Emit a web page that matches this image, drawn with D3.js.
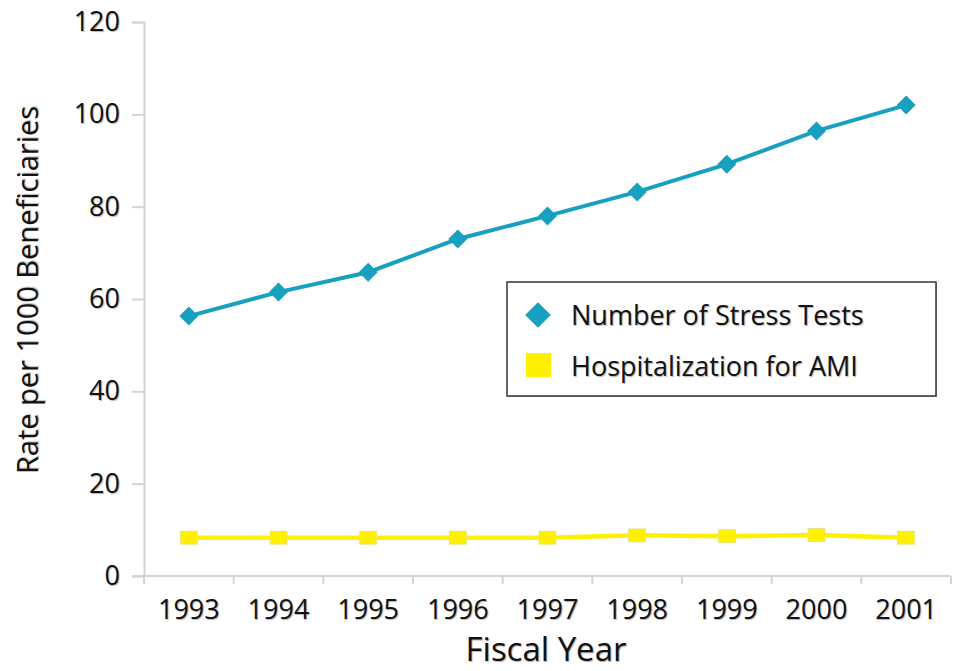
<!DOCTYPE html>
<html>
<head>
<meta charset="utf-8">
<script src="https://cdn.jsdelivr.net/npm/d3@7"></script>
<style>
  body { margin: 0; background: #fff; }
  svg text { font-family: "Open Sans", "Noto Sans", sans-serif; fill: #111;
             text-shadow: 1px 1px 1px rgba(0,0,0,0.3); }
</style>
</head>
<body>
<div id="graph"></div>
<script>
// Chart data
var years       = [ '1993', '1994', '1995', '1996', '1997', '1998', '1999', '2000', '2001' ];
var stressTests = [ 56.3, 61.5, 65.8, 73.0, 78.0, 83.2, 89.2, 96.4, 102.0 ];
var amiHosp     = [ 8.3, 8.3, 8.3, 8.3, 8.3, 8.8, 8.6, 8.9, 8.3 ];
var yTicks      = [ 0, 20, 40, 60, 80, 100, 120 ];
var seriesNames = [ 'Number of Stress Tests', 'Hospitalization for AMI' ];

var overallWidth  = 953;
var overallHeight = 671;

var margin = { top: 22, right: 2, bottom: 95, left: 144 };
var width  = overallWidth - margin.left - margin.right;
var height = overallHeight - margin.top - margin.bottom;

var blue    = '#17a0bf';
var yellow  = '#fff000';
var axisCol = '#d4d4d4';

var svg = d3.select('#graph').append('svg')
            .attr('width', overallWidth)
            .attr('height', overallHeight);

var g = svg.append('g')
           .attr('transform', 'translate(' + margin.left + ',' + margin.top + ')');

var x = d3.scaleBand().domain(years).range([0, width]);
var y = d3.scaleLinear().domain([0, 120]).range([height, 0]);

// Y axis
var yAxis = g.append('g')
             .call(d3.axisLeft(y).tickValues(yTicks).tickSize(12).tickPadding(12));
yAxis.select('.domain').attr('stroke', axisCol).attr('stroke-width', 2);
yAxis.selectAll('.tick line').attr('stroke', axisCol).attr('stroke-width', 2);
yAxis.selectAll('.tick text').style('font-size', '27px');

// X axis: ticks on the band boundaries, labels in the middle
var xAxis = g.append('g').attr('transform', 'translate(0,' + height + ')');
xAxis.append('line')
     .attr('x1', -12).attr('x2', width)
     .attr('stroke', axisCol).attr('stroke-width', 2);
var bounds = years.map(function (d) { return x(d); }).concat([width]);
xAxis.selectAll('.xtick')
     .data(bounds)
     .enter().append('line')
     .attr('class', 'xtick')
     .attr('x1', function (d) { return d; })
     .attr('x2', function (d) { return d; })
     .attr('y1', 0).attr('y2', 8)
     .attr('stroke', axisCol).attr('stroke-width', 2);
xAxis.selectAll('.xlabel')
     .data(years)
     .enter().append('text')
     .attr('class', 'xlabel')
     .attr('x', function (d) { return x(d) + x.bandwidth() / 2; })
     .attr('y', 43)
     .attr('text-anchor', 'middle')
     .style('font-size', '27px')
     .text(function (d) { return d; });

// Axis titles
svg.append('text')
   .attr('x', 546)
   .attr('y', 661)
   .attr('text-anchor', 'middle')
   .style('font-size', '33px')
   .text('Fiscal Year');

svg.append('text')
   .attr('transform', 'translate(38,290) rotate(-90)')
   .attr('text-anchor', 'middle')
   .style('font-size', '29px')
   .text('Rate per 1000 Beneficiaries');

var line = d3.line()
             .x(function (d, i) { return x(years[i]) + x.bandwidth() / 2; })
             .y(function (d) { return y(d); });

// AMI series
g.append('path')
 .datum(amiHosp)
 .attr('d', line)
 .attr('fill', 'none')
 .attr('stroke', yellow)
 .attr('stroke-width', 4.5);

g.selectAll('.sq')
 .data(amiHosp)
 .enter().append('rect')
 .attr('class', 'sq')
 .attr('x', function (d, i) { return x(years[i]) + x.bandwidth() / 2 - 8.5; })
 .attr('y', function (d) { return y(d) - 6.5; })
 .attr('width', 17).attr('height', 13)
 .attr('fill', yellow)
 .attr('stroke', '#e6e08a').attr('stroke-width', 0.8);

// Stress test series
g.append('path')
 .datum(stressTests)
 .attr('d', line)
 .attr('fill', 'none')
 .attr('stroke', blue)
 .attr('stroke-width', 4);

var diamond = d3.symbol().type(d3.symbolDiamond2).size(230);
g.selectAll('.dm')
 .data(stressTests)
 .enter().append('path')
 .attr('class', 'dm')
 .attr('d', diamond)
 .attr('transform', function (d, i) {
     return 'translate(' + (x(years[i]) + x.bandwidth() / 2) + ',' + y(d) + ')';
 })
 .attr('fill', blue);

// Legend
var legend = svg.append('g').attr('transform', 'translate(507,282)');
legend.append('rect')
      .attr('x', 1).attr('y', 1)
      .attr('width', 429).attr('height', 114)
      .attr('fill', '#bbb');
legend.append('rect')
      .attr('width', 429).attr('height', 114)
      .attr('fill', '#fff')
      .attr('stroke', '#333').attr('stroke-width', 1.5);

legend.append('path')
      .attr('d', d3.symbol().type(d3.symbolDiamond2).size(420)())
      .attr('transform', 'translate(31,33)')
      .attr('fill', blue);
legend.append('rect')
      .attr('x', 19).attr('y', 71)
      .attr('width', 25).attr('height', 24)
      .attr('fill', yellow);

legend.selectAll('.ltext')
      .data(seriesNames)
      .enter().append('text')
      .attr('class', 'ltext')
      .attr('x', 64)
      .attr('y', function (d, i) { return 43 + i * 51; })
      .style('font-size', '27px')
      .text(function (d) { return d; });
</script>
</body>
</html>
